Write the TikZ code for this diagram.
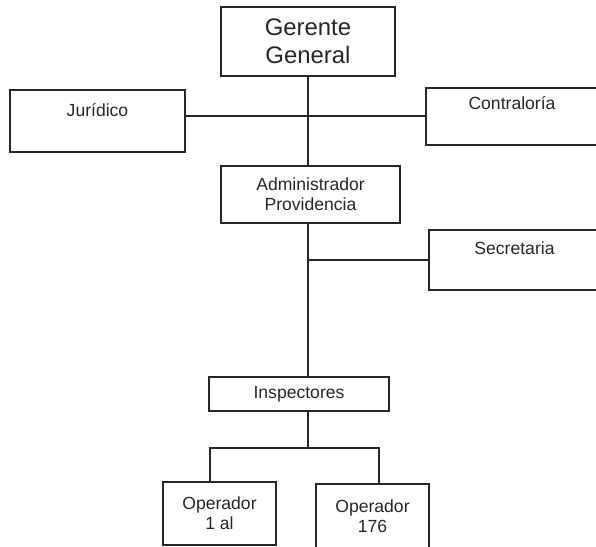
\documentclass[tikz,border=0pt]{standalone}
\usepackage{fontspec}
\setmainfont{Liberation Sans}

\tikzset{
	caja/.style={draw=black!85, line width=0.9pt, inner sep=0pt, align=center,
		text=black!85, font=\fontsize{10}{11.5}\selectfont},
	arriba/.style={caja, anchor=north, text depth=0.7cm},
	linea/.style={draw=black!85, line width=0.9pt}
}

\begin{document}
\begin{tikzpicture}[x=0.02cm,y=-0.02cm]
	% Page frame
	\useasboundingbox (0,0) rectangle (596,547);
	\clip (0,0) rectangle (596,547);

	% Top level
	\node[caja, minimum width=3.48cm, minimum height=1.38cm,
		font=\fontsize{13.6}{15.9}\selectfont] (ger) at (308,41.5) {Gerente\\General};

	% Staff boxes (text at the top)
	\node[arriba, minimum width=3.5cm, text height=0.54cm] (jur) at (97.5,89) {Jurídico};
	\node[arriba, minimum width=3.44cm, text height=0.44cm] (con) at (512,87) {Contraloría};
	\node[arriba, minimum width=3.42cm, text height=0.5cm] (sec) at (514.5,229) {Secretaria};

	% Line boxes
	\node[caja, minimum width=3.58cm, minimum height=1.14cm] (adm) at (310.5,194.5) {Administrador\\Providencia};
	\node[caja, minimum width=3.6cm, minimum height=0.68cm] (ins) at (299,394) {Inspectores};
	\node[caja, minimum width=2.26cm, minimum height=1.26cm] (op1) at (219.5,513.5) {Operador\\1 al};
	\node[caja, minimum width=2.26cm, minimum height=1.28cm] (op2) at (372.5,516) {Operador\\176};

	% Branch points under Inspectores
	\coordinate (bl) at (210,448);
	\coordinate (br) at (379,448);

	% Connectors
	\draw[linea] (ger.south) -- (ger.south |- adm.north);
	\draw[linea] (jur.east |- con.west) -- (con.west);
	\draw[linea] (ger.south |- adm.south) -- (ger.south |- ins.north);
	\draw[linea] (sec.west) -- (sec.west -| ger.south);
	\draw[linea] (ger.south |- ins.south) -- (ger.south |- bl);
	\draw[linea] (bl |- op1.north) -- (bl) -- (br) -- (br |- op2.north);

\end{tikzpicture}
\end{document}
